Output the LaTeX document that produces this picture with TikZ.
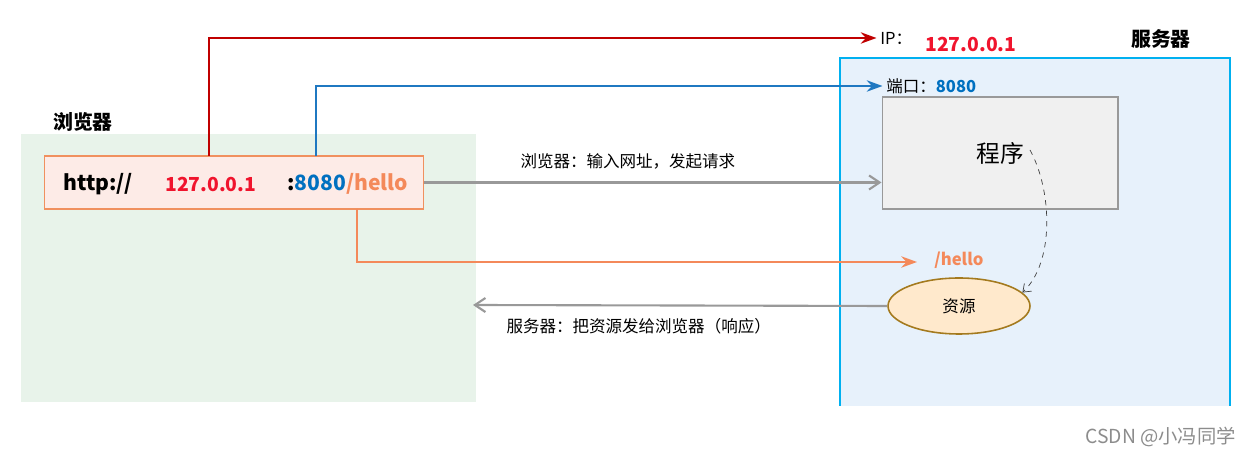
\documentclass[tikz,border=0pt]{standalone}
\usepackage{fontspec}
\setmainfont{Noto Sans CJK SC}
\usepackage{tikz}
\usetikzlibrary{arrows,arrows.meta}
\usetikzlibrary{shapes}
\usetikzlibrary{backgrounds,positioning}
\usepackage{xcolor}
\definecolor{ipred}{HTML}{C00000}
\definecolor{iptext}{HTML}{F0142D}
\definecolor{portblue}{HTML}{1F78C1}
\definecolor{porttext}{HTML}{0070C0}
\definecolor{pathorange}{HTML}{F4895A}
\definecolor{flowgray}{HTML}{999999}
\definecolor{browserbg}{HTML}{E8F3EA}
\definecolor{serverbg}{HTML}{E7F1FB}
\definecolor{serverline}{HTML}{00B0F0}
\definecolor{urlbg}{HTML}{FDEBE7}
\definecolor{urlline}{HTML}{F0905F}
\definecolor{progbg}{HTML}{F0F0F0}
\definecolor{resbg}{HTML}{FFE9CC}
\definecolor{resline}{HTML}{A47A1E}
\newcommand{\lblfont}{\fontsize{9.4}{11}\selectfont}

\begin{document}
\begin{tikzpicture}[x=0.02cm,y=-0.02cm]
      \tikzstyle{every node}=[inner sep=0pt]
      \tikzstyle{title}=[font=\fontsize{11.3}{13}\selectfont\bfseries]
      \tikzstyle{flow}=[draw=flowgray, line width=1.2pt, -{Straight Barb[length=6pt,width=8pt]}]
      \tikzstyle{link}=[line width=1.1pt, -{Stealth[length=9pt,width=6.5pt,inset=3pt]}]
      \useasboundingbox (0,0) rectangle (1259,455);

      % panels
      \fill[browserbg] (21,134) rectangle (476,402);
      \fill[serverbg] (840,58) rectangle (1230,406);
      \draw[serverline, line width=0.6pt] (840,406) -- (840,58) -- (1230,58) -- (1230,406);
      \node[title] (btitle) at (83,122) {浏览器};
      \node[title] (stitle) at (1161,39) {服务器};

      % url
      \node[draw=urlline, fill=urlbg, line width=0.6pt, minimum width=7.6cm, minimum height=1.06cm] (url) at (234,182.5) {};
      \node[anchor=west, font=\fontsize{12}{14}\selectfont\bfseries] (http) at (63,184) {http://};
      \node[anchor=west, font=\fontsize{11}{14}\selectfont\bfseries, text=iptext] (ip) at (165,184) {127.0.0.1};
      \node[anchor=west, font=\fontsize{12}{14}\selectfont\bfseries] (port) at (287,184) {:\textcolor{porttext}{8080}\textcolor{pathorange}{/hello}};

      % server
      \node[draw=flowgray, fill=progbg, line width=0.6pt, minimum width=4.72cm, minimum height=2.24cm, font=\fontsize{13.5}{15}\selectfont] (prog) at (1000,153) {程序};
      \node[ellipse, draw=resline, fill=resbg, line width=0.9pt, minimum width=2.84cm, minimum height=1.12cm, font=\lblfont] (res) at (959,306) {资源};
      \node[anchor=west, font=\lblfont] (iplbl) at (880,38) {IP：};
      \node[anchor=west, font=\fontsize{11}{14}\selectfont\bfseries, text=iptext] (ipval) at (925,44) {127.0.0.1};
      \node[anchor=west, font=\lblfont] (portlbl) at (886,86) {端口：\textbf{\textcolor{porttext}{8080}}};
      \node[anchor=west, font=\fontsize{9.5}{11}\selectfont\bfseries, text=pathorange] (hello) at (934,260) {/hello};

      \coordinate (ipfoot) at (209,156);
      \coordinate (portfoot) at (316,156);
      \coordinate (hellofoot) at (357,209);

      \draw[link, ipred] (ipfoot) |- ([xshift=-2pt]iplbl.west);
      \draw[link, portblue] (portfoot) |- ([xshift=-2pt]portlbl.west);
      \draw[link, pathorange] (hellofoot) |- (917,262);

      \draw[flow] (url.east) -- (prog.west |- url.east)
        node[pos=0.445, above=7pt, font=\lblfont] {浏览器：输入网址，发起请求};
      \draw[flow] (res.west) -- (473,305)
        node[pos=0.6, below=7pt, font=\lblfont] {服务器：把资源发给浏览器（响应）};
      \draw[black!75, dashed, -{Straight Barb[length=4pt,width=6pt]}] (prog.center) ++(30,-3) .. controls (1052,190) and (1055,262) .. (res.12);

      \node[anchor=west, text=black!45, font=\fontsize{11}{13}\selectfont] (mark) at (1085,437) {CSDN @小冯同学};
\end{tikzpicture}
\end{document}
